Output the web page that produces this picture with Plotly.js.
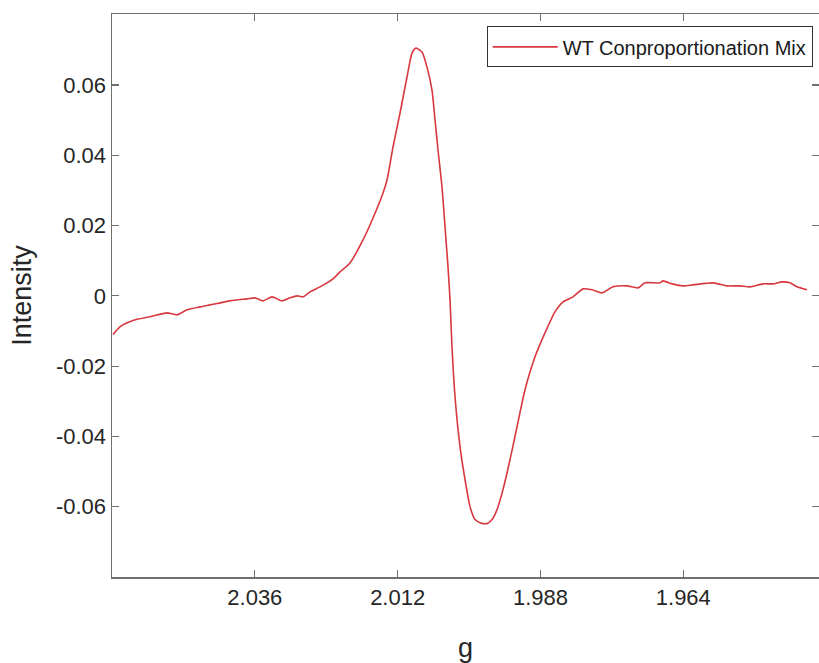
<!DOCTYPE html>
<html>
<head>
<meta charset="utf-8">
<script src="https://cdn.plot.ly/plotly-3.0.1.min.js"></script>
<style>html,body{margin:0;padding:0;background:#fff;}#chart{width:819px;height:663px;}</style>
</head>
<body>
<div id="chart"></div>
<script>
// g-values (x) and EPR intensity (y)
const gValues = [2.05983,2.05866,2.05647,2.05361,2.05076,2.04908,2.04740,2.04521,2.04353,2.04017,
  2.03731,2.03597,2.03463,2.03311,2.03143,2.03009,2.02891,2.02790,2.02673,2.02505,
  2.02286,2.02169,2.02001,2.01782,2.01614,2.01446,2.01379,2.01278,2.01160,2.01043,
  2.00959,2.00892,2.00791,2.00707,2.00623,2.00572,2.00522,2.00455,2.00404,2.00354,
  2.00320,2.00287,2.00236,2.00152,2.00068,1.99984,1.99900,1.99816,1.99699,1.99614,
  1.99530,1.99430,1.99312,1.99194,1.99060,1.98892,1.98724,1.98556,1.98421,1.98253,
  1.98085,1.97934,1.97766,1.97581,1.97346,1.97161,1.97043,1.96791,1.96741,1.96590,
  1.96405,1.96237,1.95901,1.95665,1.95447,1.95279,1.95061,1.94893,1.94742,1.94607,
  1.94489,1.94321];
const intensity = [-0.01100,-0.00880,-0.00700,-0.00597,-0.00483,-0.00540,-0.00398,-0.00313,-0.00256,-0.00142,
  -0.00085,-0.00057,-0.00142,-0.00028,-0.00142,-0.00057,0.00000,-0.00028,0.00114,0.00256,
  0.00483,0.00682,0.00938,0.01592,0.02217,0.02928,0.03297,0.04235,0.05202,0.06225,
  0.06907,0.07049,0.06936,0.06509,0.05856,0.05003,0.04150,0.03098,0.01961,0.00824,
  -0.00114,-0.01450,-0.02871,-0.04292,-0.05230,-0.05998,-0.06367,-0.06453,-0.06481,-0.06367,
  -0.06083,-0.05514,-0.04662,-0.03724,-0.02672,-0.01734,-0.01052,-0.00455,-0.00171,-0.00028,
  0.00199,0.00171,0.00085,0.00256,0.00284,0.00227,0.00370,0.00370,0.00426,0.00341,
  0.00284,0.00313,0.00370,0.00284,0.00284,0.00256,0.00341,0.00341,0.00398,0.00370,
  0.00256,0.00171];
const seriesName = "WT Conproportionation Mix";
const xTickVals = [2.036, 2.012, 1.988, 1.964];
const xTickText = ["2.036", "2.012", "1.988", "1.964"];
const yTickVals = [-0.06, -0.04, -0.02, 0, 0.02, 0.04, 0.06];
const yTickText = ["-0.06", "-0.04", "-0.02", "0", "0.02", "0.04", "0.06"];

const font = "Liberation Sans, Arial, Helvetica, sans-serif";
const axisCommon = {
  showline: true, linecolor: "#707070", linewidth: 1.5, mirror: "ticks",
  ticks: "inside", ticklen: 7, tickcolor: "#707070", tickwidth: 1.2,
  showgrid: false, zeroline: false,
  tickfont: {family: font, size: 22, color: "#262626"}
};

Plotly.newPlot("chart", [{
  x: gValues, y: intensity, type: "scatter", mode: "lines", name: seriesName,
  line: {color: "#d8383f", width: 1.6, shape: "spline", smoothing: 0.6}
}], {
  width: 819, height: 663,
  margin: {l: 112, r: 0, t: 14, b: 86},
  paper_bgcolor: "#ffffff", plot_bgcolor: "#ffffff",
  showlegend: true,
  legend: {
    x: 0.530, y: 0.978, xanchor: "left", yanchor: "top",
    bordercolor: "#333333", borderwidth: 1, bgcolor: "#ffffff",
    font: {family: font, size: 20, color: "#1a1a1a"},
    itemwidth: 65
  },
  xaxis: Object.assign({}, axisCommon, {
    range: [2.060, 1.9412], tickmode: "array", tickvals: xTickVals, ticktext: xTickText,
    title: {text: "g", font: {family: font, size: 27, color: "#262626"}, standoff: 34}
  }),
  yaxis: Object.assign({}, axisCommon, {
    range: [-0.08, 0.0802], tickmode: "array", tickvals: yTickVals, ticktext: yTickText,
    title: {text: "Intensity", font: {family: font, size: 27, color: "#262626"}, standoff: 16}
  })
}, {displayModeBar: false, staticPlot: true});
</script>
</body>
</html>
